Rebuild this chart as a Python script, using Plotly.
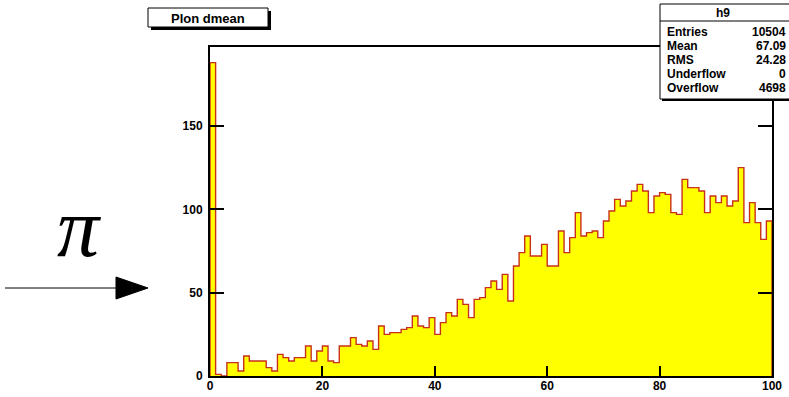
import numpy as np
import plotly.graph_objects as go

# Histogram h9: 100 bins on [0, 100]
bin_lo, bin_hi = 0.0, 100.0
counts = [
    188, 1, 0, 8, 8, 3, 12, 9, 9, 9,
    5, 3, 13, 11, 9, 11, 11, 18, 9, 15,
    18, 9, 8, 18, 18, 23, 19, 18, 21, 16,
    30, 25, 26, 26, 28, 29, 36, 30, 29, 35,
    25, 32, 38, 36, 46, 43, 35, 46, 47, 53,
    57, 52, 61, 45, 66, 74, 84, 72, 72, 79,
    66, 66, 87, 74, 83, 98, 84, 86, 87, 83,
    93, 99, 106, 102, 105, 111, 115, 111, 98, 108,
    110, 109, 98, 97, 118, 113, 113, 111, 98, 108,
    104, 108, 102, 105, 125, 92, 104, 92, 82, 93,
]
x_ticks = [0, 20, 40, 60, 80, 100]
y_ticks = [0, 50, 100, 150]
y_max = 197.4

hist_title = "Plon dmean"
stats_header = "h9"
stat_names = ["Entries", "Mean", "RMS", "Underflow", "Overflow"]
stat_values = ["10504", "67.09", "24.28", "0", "4698"]

# canvas / pad geometry (pixels)
W, H = 789, 397
ML, MR, MT, MB = 210, 17, 47, 21
PW, PH = W - ML - MR, H - MT - MB


def px(x):
    return (x - ML) / PW


def py(y):
    return (H - MB - y) / PH


n = len(counts)
edges = np.linspace(bin_lo, bin_hi, n + 1)
centers = 0.5 * (edges[:-1] + edges[1:])
widths = np.diff(edges)

# outline of the histogram as a step line
step_x = [edges[0]] + list(edges) + [edges[-1]]
step_y = [0] + list(counts) + [counts[-1], 0]

fig = go.Figure()
fig.add_trace(go.Bar(
    x=centers, y=counts, width=widths,
    marker=dict(color="#ffff00", line=dict(width=0)),
    hoverinfo="skip", showlegend=False,
))
fig.add_trace(go.Scatter(
    x=step_x, y=step_y, mode="lines", line_shape="hv",
    line=dict(color="#c8301a", width=1.4),
    hoverinfo="skip", showlegend=False,
))

tick_font = dict(family="Liberation Sans, Arial, sans-serif", size=12,
                 color="black", weight="bold")

fig.update_layout(
    width=W, height=H,
    margin=dict(l=ML, r=MR, t=MT, b=MB, pad=0, autoexpand=False),
    paper_bgcolor="white", plot_bgcolor="white",
    bargap=0, showlegend=False,
    xaxis=dict(
        range=[bin_lo, bin_hi], tickvals=x_ticks,
        ticktext=[str(v) for v in x_ticks],
        ticks="inside", ticklen=10, tickwidth=2, tickcolor="black",
        showline=True, linecolor="black", linewidth=2, mirror=True,
        showgrid=False, zeroline=False, tickfont=tick_font,
        ticklabelstandoff=-2, automargin=False,
    ),
    yaxis=dict(
        range=[0, y_max], tickvals=y_ticks,
        ticktext=[str(v) for v in y_ticks],
        ticks="inside", ticklen=14, tickwidth=2, tickcolor="black",
        showline=True, linecolor="black", linewidth=2, mirror="ticks",
        showgrid=False, zeroline=False, tickfont=tick_font,
        ticklabelstandoff=3, automargin=False,
    ),
)

shapes = []
annotations = []

# title box with drop shadow
tx0, ty0, tx1, ty1 = 148, 8, 268, 27
shapes.append(dict(type="rect", xref="paper", yref="paper",
                   x0=px(tx0 + 3), x1=px(tx1 + 3), y0=py(ty0 + 3), y1=py(ty1 + 3),
                   fillcolor="black", line=dict(width=0), layer="above"))
shapes.append(dict(type="rect", xref="paper", yref="paper",
                   x0=px(tx0), x1=px(tx1), y0=py(ty0), y1=py(ty1),
                   fillcolor="white", line=dict(color="black", width=1), layer="above"))
annotations.append(dict(text=hist_title, xref="paper", yref="paper",
                        x=px((tx0 + tx1) / 2), y=py((ty0 + ty1) / 2 + 0.5),
                        showarrow=False, xanchor="center", yanchor="middle",
                        font=dict(family="Liberation Sans, Arial, sans-serif",
                                  size=13, color="black", weight="bold")))

# statistics box
sx0, sy0, sx1, sy1 = 660, 4, 795, 99
shapes.append(dict(type="rect", xref="paper", yref="paper",
                   x0=px(sx0 + 2), x1=px(sx1 + 2), y0=py(sy0 + 2), y1=py(sy1 + 2),
                   fillcolor="black", line=dict(width=0), layer="above"))
shapes.append(dict(type="rect", xref="paper", yref="paper",
                   x0=px(sx0), x1=px(sx1), y0=py(sy0), y1=py(sy1),
                   fillcolor="white", line=dict(color="black", width=1), layer="above"))
shapes.append(dict(type="line", xref="paper", yref="paper",
                   x0=px(sx0), x1=px(sx1), y0=py(21), y1=py(21),
                   line=dict(color="black", width=1), layer="above"))
stat_font = dict(family="Liberation Sans, Arial, sans-serif", size=12,
                 color="black", weight="bold")
annotations.append(dict(text=stats_header, xref="paper", yref="paper",
                        x=px(723), y=py(13), showarrow=False,
                        xanchor="center", yanchor="middle", font=stat_font))
row_y = [32, 46, 60, 74, 88]
for name, val, ry in zip(stat_names, stat_values, row_y):
    annotations.append(dict(text=name, xref="paper", yref="paper",
                            x=px(665), y=py(ry), showarrow=False,
                            xanchor="left", yanchor="middle", font=stat_font))
    annotations.append(dict(text=val, xref="paper", yref="paper",
                            x=px(788), y=py(ry), showarrow=False,
                            xanchor="right", yanchor="middle", font=stat_font))

# pi symbol and arrow pointing at the pad
annotations.append(dict(text="π", xref="paper", yref="paper",
                        x=px(79), y=py(227), showarrow=False,
                        xanchor="center", yanchor="middle",
                        font=dict(family="Liberation Serif, serif", size=84,
                                  color="black", style="italic")))
shapes.append(dict(type="line", xref="paper", yref="paper",
                   x0=px(5), x1=px(118), y0=py(288), y1=py(288),
                   line=dict(color="black", width=1), layer="above"))
shapes.append(dict(type="path", xref="paper", yref="paper",
                   path="M {:.5f} {:.5f} L {:.5f} {:.5f} L {:.5f} {:.5f} Z".format(
                       px(116), py(277), px(148), py(288), px(116), py(299)),
                   fillcolor="black", line=dict(color="black", width=1), layer="above"))

fig.update_layout(shapes=shapes, annotations=annotations)

fig.write_html("out.html")
